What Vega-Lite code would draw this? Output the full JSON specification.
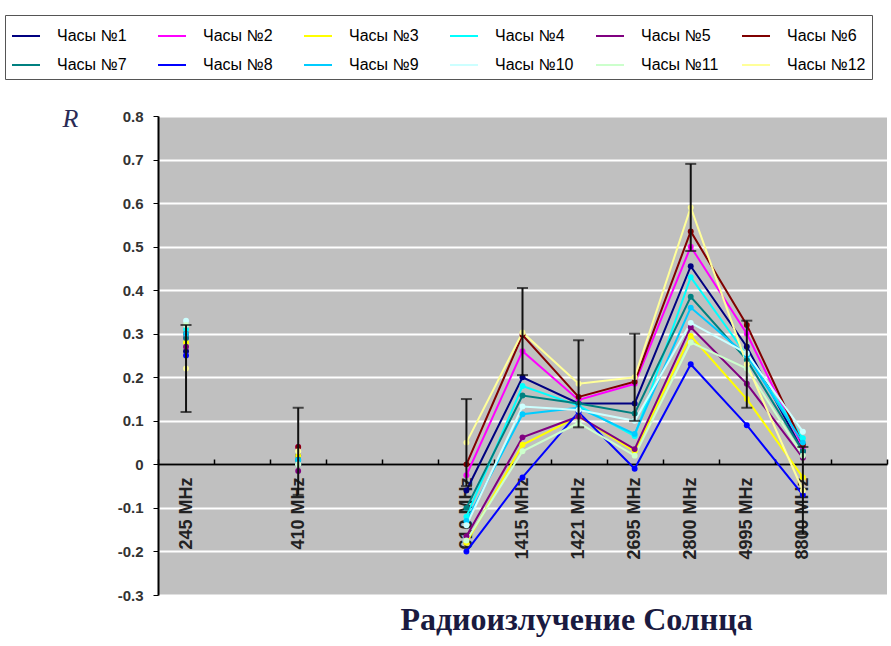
{
"$schema":"https://vega.github.io/schema/vega-lite/v6.json",
"width":729,"height":479,
"autosize":{"type":"none"},
"padding":{"left":158,"top":116,"right":4,"bottom":51},
"background":"white",
"title":{"text":"Радиоизлучение Солнца","orient":"bottom","anchor":"middle","dx":54,"offset":2,"font":"Liberation Serif","fontSize":32,"fontWeight":"bold","color":"#1a1a40"},
"datasets":{
"errs":[{"b":"245 MHz","lo":0.12,"hi":0.32},{"b":"410 MHz","lo":-0.07,"hi":0.13},{"b":"610 MHz","lo":-0.05,"hi":0.15},{"b":"1415 MHz","lo":0.205,"hi":0.405},{"b":"1421 MHz","lo":0.085,"hi":0.285},{"b":"2695 MHz","lo":0.1,"hi":0.3},{"b":"2800 MHz","lo":0.49,"hi":0.69},{"b":"4995 MHz","lo":0.13,"hi":0.33},{"b":"8800 MHz","lo":-0.16,"hi":0.04}],
"pts":[
{"s":"Часы №1","b":"245 MHz","f":245,"R":0.26},{"s":"Часы №1","b":"410 MHz","f":410,"R":0.02},{"s":"Часы №1","b":"610 MHz","f":610,"R":-0.06},{"s":"Часы №1","b":"1415 MHz","f":1415,"R":0.2},{"s":"Часы №1","b":"1421 MHz","f":1421,"R":0.14},{"s":"Часы №1","b":"2695 MHz","f":2695,"R":0.14},{"s":"Часы №1","b":"2800 MHz","f":2800,"R":0.455},{"s":"Часы №1","b":"4995 MHz","f":4995,"R":0.27},{"s":"Часы №1","b":"8800 MHz","f":8800,"R":0.03},
{"s":"Часы №2","b":"245 MHz","f":245,"R":0.29},{"s":"Часы №2","b":"410 MHz","f":410,"R":0.04},{"s":"Часы №2","b":"610 MHz","f":610,"R":-0.025},{"s":"Часы №2","b":"1415 MHz","f":1415,"R":0.26},{"s":"Часы №2","b":"1421 MHz","f":1421,"R":0.148},{"s":"Часы №2","b":"2695 MHz","f":2695,"R":0.185},{"s":"Часы №2","b":"2800 MHz","f":2800,"R":0.5},{"s":"Часы №2","b":"4995 MHz","f":4995,"R":0.3},{"s":"Часы №2","b":"8800 MHz","f":8800,"R":0.04},
{"s":"Часы №3","b":"245 MHz","f":245,"R":0.28},{"s":"Часы №3","b":"410 MHz","f":410,"R":0.02},{"s":"Часы №3","b":"610 MHz","f":610,"R":-0.18},{"s":"Часы №3","b":"1415 MHz","f":1415,"R":0.045},{"s":"Часы №3","b":"1421 MHz","f":1421,"R":0.11},{"s":"Часы №3","b":"2695 MHz","f":2695,"R":0.03},{"s":"Часы №3","b":"2800 MHz","f":2800,"R":0.295},{"s":"Часы №3","b":"4995 MHz","f":4995,"R":0.15},{"s":"Часы №3","b":"8800 MHz","f":8800,"R":-0.03},
{"s":"Часы №4","b":"245 MHz","f":245,"R":0.31},{"s":"Часы №4","b":"410 MHz","f":410,"R":0.01},{"s":"Часы №4","b":"610 MHz","f":610,"R":-0.12},{"s":"Часы №4","b":"1415 MHz","f":1415,"R":0.18},{"s":"Часы №4","b":"1421 MHz","f":1421,"R":0.135},{"s":"Часы №4","b":"2695 MHz","f":2695,"R":0.065},{"s":"Часы №4","b":"2800 MHz","f":2800,"R":0.43},{"s":"Часы №4","b":"4995 MHz","f":4995,"R":0.25},{"s":"Часы №4","b":"8800 MHz","f":8800,"R":0.06},
{"s":"Часы №5","b":"245 MHz","f":245,"R":0.27},{"s":"Часы №5","b":"410 MHz","f":410,"R":-0.015},{"s":"Часы №5","b":"610 MHz","f":610,"R":-0.165},{"s":"Часы №5","b":"1415 MHz","f":1415,"R":0.062},{"s":"Часы №5","b":"1421 MHz","f":1421,"R":0.11},{"s":"Часы №5","b":"2695 MHz","f":2695,"R":0.035},{"s":"Часы №5","b":"2800 MHz","f":2800,"R":0.315},{"s":"Часы №5","b":"4995 MHz","f":4995,"R":0.185},{"s":"Часы №5","b":"8800 MHz","f":8800,"R":0.015},
{"s":"Часы №6","b":"245 MHz","f":245,"R":0.3},{"s":"Часы №6","b":"410 MHz","f":410,"R":0.04},{"s":"Часы №6","b":"610 MHz","f":610,"R":0.0},{"s":"Часы №6","b":"1415 MHz","f":1415,"R":0.297},{"s":"Часы №6","b":"1421 MHz","f":1421,"R":0.155},{"s":"Часы №6","b":"2695 MHz","f":2695,"R":0.19},{"s":"Часы №6","b":"2800 MHz","f":2800,"R":0.535},{"s":"Часы №6","b":"4995 MHz","f":4995,"R":0.32},{"s":"Часы №6","b":"8800 MHz","f":8800,"R":0.045},
{"s":"Часы №7","b":"245 MHz","f":245,"R":0.29},{"s":"Часы №7","b":"410 MHz","f":410,"R":0.01},{"s":"Часы №7","b":"610 MHz","f":610,"R":-0.1},{"s":"Часы №7","b":"1415 MHz","f":1415,"R":0.158},{"s":"Часы №7","b":"1421 MHz","f":1421,"R":0.14},{"s":"Часы №7","b":"2695 MHz","f":2695,"R":0.117},{"s":"Часы №7","b":"2800 MHz","f":2800,"R":0.385},{"s":"Часы №7","b":"4995 MHz","f":4995,"R":0.24},{"s":"Часы №7","b":"8800 MHz","f":8800,"R":0.03},
{"s":"Часы №8","b":"245 MHz","f":245,"R":0.25},{"s":"Часы №8","b":"410 MHz","f":410,"R":0.0},{"s":"Часы №8","b":"610 MHz","f":610,"R":-0.2},{"s":"Часы №8","b":"1415 MHz","f":1415,"R":-0.03},{"s":"Часы №8","b":"1421 MHz","f":1421,"R":0.12},{"s":"Часы №8","b":"2695 MHz","f":2695,"R":-0.01},{"s":"Часы №8","b":"2800 MHz","f":2800,"R":0.23},{"s":"Часы №8","b":"4995 MHz","f":4995,"R":0.09},{"s":"Часы №8","b":"8800 MHz","f":8800,"R":-0.07},
{"s":"Часы №9","b":"245 MHz","f":245,"R":0.3},{"s":"Часы №9","b":"410 MHz","f":410,"R":0.01},{"s":"Часы №9","b":"610 MHz","f":610,"R":-0.13},{"s":"Часы №9","b":"1415 MHz","f":1415,"R":0.115},{"s":"Часы №9","b":"1421 MHz","f":1421,"R":0.13},{"s":"Часы №9","b":"2695 MHz","f":2695,"R":0.07},{"s":"Часы №9","b":"2800 MHz","f":2800,"R":0.36},{"s":"Часы №9","b":"4995 MHz","f":4995,"R":0.25},{"s":"Часы №9","b":"8800 MHz","f":8800,"R":0.05},
{"s":"Часы №10","b":"245 MHz","f":245,"R":0.33},{"s":"Часы №10","b":"410 MHz","f":410,"R":0.0},{"s":"Часы №10","b":"610 MHz","f":610,"R":-0.14},{"s":"Часы №10","b":"1415 MHz","f":1415,"R":0.133},{"s":"Часы №10","b":"1421 MHz","f":1421,"R":0.125},{"s":"Часы №10","b":"2695 MHz","f":2695,"R":0.1},{"s":"Часы №10","b":"2800 MHz","f":2800,"R":0.325},{"s":"Часы №10","b":"4995 MHz","f":4995,"R":0.255},{"s":"Часы №10","b":"8800 MHz","f":8800,"R":0.075},
{"s":"Часы №11","b":"245 MHz","f":245,"R":0.32},{"s":"Часы №11","b":"410 MHz","f":410,"R":0.0},{"s":"Часы №11","b":"610 MHz","f":610,"R":-0.175},{"s":"Часы №11","b":"1415 MHz","f":1415,"R":0.03},{"s":"Часы №11","b":"1421 MHz","f":1421,"R":0.095},{"s":"Часы №11","b":"2695 MHz","f":2695,"R":0.02},{"s":"Часы №11","b":"2800 MHz","f":2800,"R":0.28},{"s":"Часы №11","b":"4995 MHz","f":4995,"R":0.22},{"s":"Часы №11","b":"8800 MHz","f":8800,"R":0.02},
{"s":"Часы №12","b":"245 MHz","f":245,"R":0.22},{"s":"Часы №12","b":"410 MHz","f":410,"R":0.03},{"s":"Часы №12","b":"610 MHz","f":610,"R":0.05},{"s":"Часы №12","b":"1415 MHz","f":1415,"R":0.303},{"s":"Часы №12","b":"1421 MHz","f":1421,"R":0.185},{"s":"Часы №12","b":"2695 MHz","f":2695,"R":0.2},{"s":"Часы №12","b":"2800 MHz","f":2800,"R":0.59},{"s":"Часы №12","b":"4995 MHz","f":4995,"R":0.23},{"s":"Часы №12","b":"8800 MHz","f":8800,"R":-0.06}
]},
"layer":[
{"data":{"name":"pts"},"transform":[{"filter":"datum.f >= 610"}],
 "mark":{"type":"line","strokeWidth":2},
 "encoding":{
  "x":{"field":"b","type":"ordinal","title":null,
   "scale":{"type":"band","domain":["245 MHz"," ","410 MHz","  ","   ","610 MHz","1415 MHz","1421 MHz","2695 MHz","2800 MHz","4995 MHz","8800 MHz","    "],"paddingInner":0,"paddingOuter":0},
   "axis":{"orient":"bottom","offset":-131,"labelAngle":-90,"labelFont":"Liberation Sans","labelFontSize":18,"labelFontWeight":"bold","labelColor":"#222222","tickBand":"extent","tickSize":-5,"tickColor":"black","tickWidth":1.5,"domainColor":"black","domainWidth":2,"grid":false,"labelPadding":18}},
  "y":{"field":"R","type":"quantitative","title":"R",
   "scale":{"domain":[-0.3,0.8],"nice":false,"zero":false},
   "axis":{"values":[-0.3,-0.2,-0.1,0,0.1,0.2,0.3,0.4,0.5,0.6,0.7,0.8],
    "labelExpr":"datum.value == 0 ? '0' : replace(format(datum.value, '.1f'), '−', '-')",
    "labelFont":"Liberation Sans","labelFontSize":15,"labelFontWeight":"bold","labelColor":"#333333","labelPadding":10,
    "tickSize":5,"tickColor":"black","domainColor":"black","domainWidth":2,
    "gridColor":"white","gridWidth":2,"gridOpacity":1,
    "titleAngle":0,"titleX":-88,"titleY":2,"titleAlign":"center","titleBaseline":"middle",
    "titleFont":"Liberation Serif","titleFontStyle":"italic","titleFontWeight":"normal","titleFontSize":26,"titleColor":"#2a2a55"}},
  "color":{"field":"s","type":"nominal",
   "scale":{"domain":["Часы №1","Часы №2","Часы №3","Часы №4","Часы №5","Часы №6","Часы №7","Часы №8","Часы №9","Часы №10","Часы №11","Часы №12"],
    "range":["#000080","#FF00FF","#FFFF00","#00FFFF","#800080","#800000","#008080","#0000FF","#00CCFF","#CCFFFF","#CCFFCC","#FFFF99"]},
   "legend":{"orient":"none","legendX":-153,"legendY":-101,"direction":"horizontal","columns":6,"title":null,
    "symbolType":"stroke","symbolSize":784,"symbolStrokeWidth":2,"labelFont":"Liberation Sans","labelFontSize":16,"labelColor":"black",
    "labelOffset":16,"gridAlign":"all","columnPadding":18,"rowPadding":6,"padding":6,"strokeColor":"#555555","fillColor":"white"}},
  "order":{"field":"f","type":"quantitative"}
 }},
{"data":{"name":"pts"},
 "mark":{"type":"point","filled":true,"size":35,"opacity":1},
 "encoding":{
  "x":{"field":"b","type":"ordinal","title":null},
  "y":{"field":"R","type":"quantitative"},
  "color":{"field":"s","type":"nominal"}
 }},
{"data":{"name":"errs"},
 "mark":{"type":"rule","color":"#111111","strokeWidth":2},
 "encoding":{
  "x":{"field":"b","type":"ordinal","title":null},
  "y":{"field":"lo","type":"quantitative"},
  "y2":{"field":"hi"}
 }},
{"data":{"name":"errs"},
 "mark":{"type":"tick","color":"#111111","size":11,"thickness":2},
 "encoding":{
  "x":{"field":"b","type":"ordinal","title":null},
  "y":{"field":"hi","type":"quantitative"}
 }},
{"data":{"name":"errs"},
 "mark":{"type":"tick","color":"#111111","size":11,"thickness":2},
 "encoding":{
  "x":{"field":"b","type":"ordinal","title":null},
  "y":{"field":"lo","type":"quantitative"}
 }}
],
"config":{"view":{"fill":"#C0C0C0","stroke":null},"font":"Liberation Sans"}
}
